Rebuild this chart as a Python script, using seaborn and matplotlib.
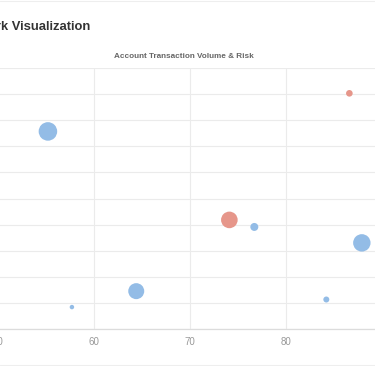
import pandas as pd
import matplotlib
matplotlib.use("Agg")
import matplotlib.pyplot as plt
import seaborn as sns

# data
activity = [86.6, 55.2, 74.1, 76.7, 87.9, 64.4, 57.7, 84.2]
risk_score = [90.3, 75.7, 41.8, 39.1, 33.0, 14.5, 8.4, 11.3]
volume = [11, 86, 69, 16, 76, 64, 5, 9]
flag = ['high', 'low', 'high', 'low', 'low', 'low', 'low', 'low']
x_ticks = [50, 60, 70, 80]

df = pd.DataFrame({'activity': activity, 'risk': risk_score,
                   'volume': volume, 'flag': flag})

sns.set_theme(style="white")
plt.rcParams['font.family'] = ['Liberation Sans', 'DejaVu Sans']

W, H = 375, 366
fig = plt.figure(figsize=(W / 100, H / 100), dpi=100)

# axes extend past the left/right of the canvas (reference is cropped)
ax = fig.add_axes([-2 / W, 1 - 329 / H, 384 / W, 261 / H])

palette = {'high': '#e6968a', 'low': '#93bce6'}
sns.scatterplot(data=df, x='activity', y='risk', hue='flag', size='volume',
                palette=palette, sizes=(2.07 * 5, 2.07 * 86), size_norm=(5, 86),
                linewidth=0, alpha=1, legend=False, ax=ax, zorder=3)

ax.set_xlim(50, 90)
ax.set_ylim(0, 100)
ax.set_xticks(x_ticks)
ax.set_yticks(range(0, 101, 10))
ax.grid(True, color='#ebebeb', linewidth=0.8, zorder=0)
ax.set_axisbelow(True)
for s in ['top', 'left', 'right']:
    ax.spines[s].set_visible(False)
ax.spines['bottom'].set_color('#dcdcdc')
ax.spines['bottom'].set_linewidth(0.9)
ax.tick_params(axis='x', length=0, pad=6, labelsize=7, labelcolor='#999999')
ax.tick_params(axis='y', length=0, labelleft=False)
ax.set_xlabel('')
ax.set_ylabel('')

fig.text(90 / W, 1 - 29.5 / H, 'Network Visualization', ha='right', va='baseline',
         fontsize=9.4, fontweight='bold', color='#333333')
fig.text(184 / W, 1 - 56 / H, 'Account Transaction Volume & Risk', ha='center',
         va='center', fontsize=5.9, fontweight='bold', color='#666666')

# faint card borders
fig.add_artist(plt.Line2D([0, 1], [1 - 365 / H] * 2, color='#eeeeee', linewidth=0.8))
fig.add_artist(plt.Line2D([0, 1], [1 - 0.5 / H] * 2, color='#eeeeee', linewidth=0.8))

fig.savefig('out.png', dpi=100)
